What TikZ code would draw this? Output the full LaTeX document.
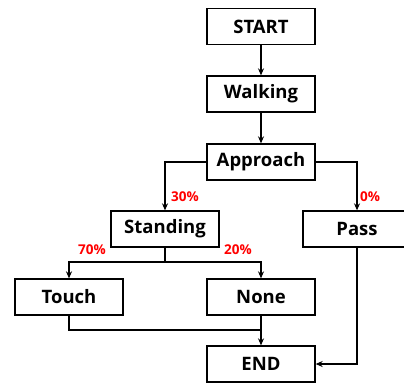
\documentclass[tikz,border=0pt]{standalone}
\usepackage{fontspec}
\setmainfont{Open Sans}
\usetikzlibrary{arrows.meta,positioning}

\begin{document}
\begin{tikzpicture}[x=1pt,y=-1pt,
  box/.style={draw,line width=1.3pt,minimum width=108pt,minimum height=36pt,inner sep=0pt,font=\fontsize{18.5}{22}\selectfont\bfseries},
  pct/.style={anchor=west,inner sep=0pt,text=red,font=\fontsize{13.5}{16}\selectfont\bfseries},
  flow/.style={line width=1.3pt,-{Stealth[length=7pt,width=6pt]}},
  line/.style={line width=1.3pt}]
\useasboundingbox (0,0) rectangle (404,383);
\node[box] (start) at (261,26.5) {START};
\node[box] (walk) at (261,94) {Walking};
\node[box] (appr) at (261,162) {Approach};
\node[box] (stand) at (165,229) {Standing};
\node[box] (pass) at (357,229) {Pass};
\node[box] (touch) at (69,297) {Touch};
\node[box] (none) at (261,297) {None};
\node[box] (end) at (261,364) {END};
\coordinate (split) at (165,262);
\coordinate (join) at (261,330);
% main line
\draw[flow] (start) -- (walk);
\draw[flow] (walk) -- (appr);
\draw[flow] (appr.west) -| (stand.north);
\draw[flow] (appr.east) -| (pass.north);
% standing branch
\draw[line] (stand.south) -- (split);
\draw[flow] (split) -| (touch.north);
\draw[flow] (split) -| (none.north);
\draw[line] (touch.south) |- (join);
\draw[flow] (none.south) -- (end.north);
\draw[flow] (pass.south) |- (end.east);
% percentages
\node[pct] (p30) at (171,197) {30\%};
\node[pct] (p0) at (360,197) {0\%};
\node[pct] (p70) at (78,250) {70\%};
\node[pct] (p20) at (224,250) {20\%};
\end{tikzpicture}
\end{document}
